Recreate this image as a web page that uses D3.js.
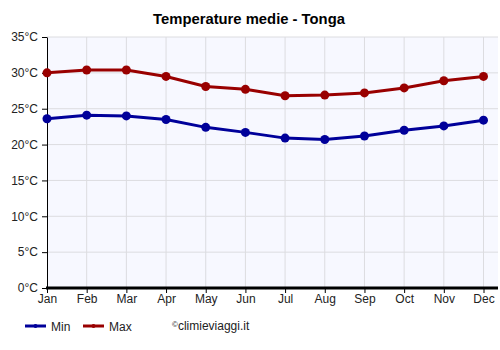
<!DOCTYPE html>
<html>
<head>
<meta charset="utf-8">
<script src="https://cdn.jsdelivr.net/npm/d3@7"></script>
<style>
  body { margin: 0; background: #fff; }
  svg { display: block; font-family: "Liberation Sans", Arial, sans-serif; }
</style>
</head>
<body>
<div id="chart"></div>
<script>
var months = ["Jan", "Feb", "Mar", "Apr", "May", "Jun", "Jul", "Aug", "Sep", "Oct", "Nov", "Dec"];
var minTemp = [23.6, 24.1, 24.0, 23.5, 22.4, 21.7, 20.9, 20.7, 21.2, 22.0, 22.6, 23.4];
var maxTemp = [30.0, 30.4, 30.4, 29.5, 28.1, 27.7, 26.8, 26.9, 27.2, 27.9, 28.9, 29.5];
var yTicks = [0, 5, 10, 15, 20, 25, 30, 35];

var width = 500, height = 350;
var plotLeft = 47, plotRight = 498, plotTop = 37, plotBottom = 288;

var svg = d3.select("#chart").append("svg")
  .attr("width", width)
  .attr("height", height);

// scales
var x = d3.scalePoint().domain(months).range([plotLeft, 483.5]);
var y = d3.scaleLinear().domain([0, 35]).range([plotBottom, plotTop]);

// background
svg.append("rect")
  .attr("x", plotLeft).attr("y", plotTop)
  .attr("width", plotRight - plotLeft).attr("height", plotBottom - plotTop)
  .attr("fill", "#f7f8ff");

// grid
svg.append("g").selectAll("line")
  .data(yTicks).enter().append("line")
  .attr("x1", plotLeft).attr("x2", plotRight)
  .attr("y1", function(d) { return y(d); })
  .attr("y2", function(d) { return y(d); })
  .attr("stroke", "#dcdce0").attr("stroke-width", 1);

svg.append("g").selectAll("line")
  .data(months.slice(1)).enter().append("line")
  .attr("x1", function(d) { return x(d); })
  .attr("x2", function(d) { return x(d); })
  .attr("y1", plotTop).attr("y2", plotBottom)
  .attr("stroke", "#dcdce0").attr("stroke-width", 1);

// y axis
var yAxis = svg.append("g")
  .attr("transform", "translate(" + plotLeft + ",0)")
  .call(d3.axisLeft(y).tickValues(yTicks).tickSize(5).tickSizeOuter(0)
    .tickFormat(function(d) { return d + "°C"; }));
yAxis.select(".domain").attr("stroke", "#000");
yAxis.selectAll("text").attr("font-size", 12).attr("fill", "#222").attr("dx", "-1");

// x axis
var xAxis = svg.append("g")
  .attr("transform", "translate(0," + plotBottom + ")")
  .call(d3.axisBottom(x).tickSize(5).tickSizeOuter(0));
xAxis.select(".domain").remove();
xAxis.selectAll("text").attr("font-size", 12).attr("fill", "#222").attr("dy", "0.6em");
svg.append("line")
  .attr("x1", plotLeft - 1).attr("x2", plotRight)
  .attr("y1", plotBottom).attr("y2", plotBottom)
  .attr("stroke", "#000").attr("stroke-width", 3);

// series
var series = [
  { name: "Min", values: minTemp, color: "#00009a" },
  { name: "Max", values: maxTemp, color: "#990000" }
];

var line = d3.line()
  .x(function(d, i) { return x(months[i]); })
  .y(function(d) { return y(d); });

series.forEach(function(s) {
  svg.append("path")
    .datum(s.values)
    .attr("d", line)
    .attr("fill", "none")
    .attr("stroke", s.color)
    .attr("stroke-width", 3);
  svg.append("g").selectAll("circle")
    .data(s.values).enter().append("circle")
    .attr("cx", function(d, i) { return x(months[i]); })
    .attr("cy", function(d) { return y(d); })
    .attr("r", 4.5)
    .attr("fill", s.color);
});

// title
svg.append("text")
  .attr("x", 249).attr("y", 24)
  .attr("text-anchor", "middle")
  .attr("font-size", 14.8).attr("font-weight", "bold")
  .text("Temperature medie - Tonga");

// legend
var legendX = [25, 83];
series.forEach(function(s, i) {
  var g = svg.append("g").attr("transform", "translate(" + legendX[i] + ",326)");
  g.append("line").attr("x1", 0).attr("x2", 21).attr("y1", 0).attr("y2", 0)
    .attr("stroke", s.color).attr("stroke-width", 3);
  g.append("circle").attr("cx", 10.5).attr("cy", 0).attr("r", 2).attr("fill", s.color);
  g.append("text").attr("x", 26).attr("y", 4.5)
    .attr("font-size", 12).attr("fill", "#222").text(s.name);
});

svg.append("text")
  .attr("x", 172).attr("y", 330)
  .attr("font-size", 12).attr("fill", "#222")
  .html('<tspan font-size="8" dy="-3">©</tspan><tspan dy="3">climieviaggi.it</tspan>');
</script>
</body>
</html>
